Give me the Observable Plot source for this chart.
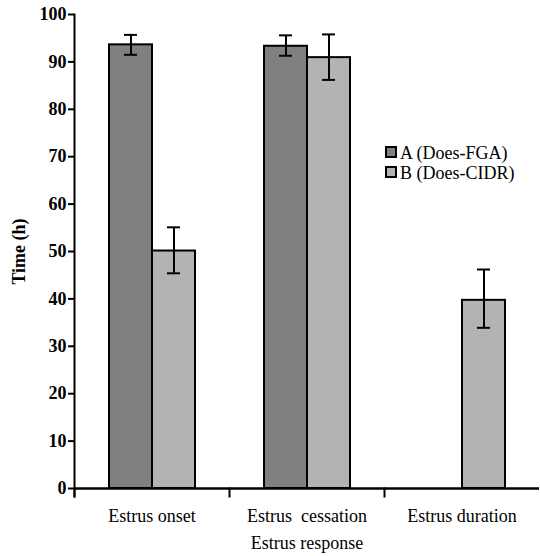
<!DOCTYPE html>
<html><head><meta charset="utf-8">
<script src="https://cdn.jsdelivr.net/npm/d3@7"></script>
<script src="https://cdn.jsdelivr.net/npm/@observablehq/plot@0.6"></script>
<style>
body{margin:0;background:#fff}
#wrap{position:relative;width:540px;height:556px;font-family:"Liberation Serif","Times New Roman","Noto Serif","DejaVu Serif","Tinos","Nimbus Roman","FreeSerif",serif}
#wrap svg text{white-space:pre}
.leg{position:absolute;left:385px;font-size:18px;line-height:20px;color:#000;white-space:nowrap}
.leg span.sw{display:inline-block;width:8px;height:8px;border:2px solid #000;margin-right:3px;vertical-align:1px}
</style>
</head><body><div id="wrap"></div>
<script>
const groups = ["Estrus onset", "Estrus  cessation", "Estrus duration"];
const seriesKeys = ["A", "B"];
const seriesNames = ["A (Does-FGA)", "B (Does-CIDR)"];
const valuesA = [93.6, 93.3, null];
const valuesB = [50.1, 90.9, 39.7];
const lowA = [91.5, 91.3, null];
const highA = [95.7, 95.6, null];
const lowB = [45.4, 86.2, 33.9];
const highB = [55.1, 95.8, 46.2];
const yTicks = [0, 10, 20, 30, 40, 50, 60, 70, 80, 90, 100];
const colors = ["#808080", "#b3b3b3"];

const rows = [];
groups.forEach((g, i) => {
  if (valuesA[i] != null) rows.push({group: g, series: "A", value: valuesA[i], lo: lowA[i], hi: highA[i]});
  if (valuesB[i] != null) rows.push({group: g, series: "B", value: valuesB[i], lo: lowB[i], hi: highB[i]});
});

const H = 556, mTop = 14, mBottom = 68;
const innerH = H - mTop - mBottom;
const FONT = "'Liberation Serif', 'Times New Roman', 'Noto Serif', 'DejaVu Serif', Tinos, 'Nimbus Roman', FreeSerif, serif";

const chart = Plot.plot({
  width: 540, height: H,
  marginLeft: 74, marginRight: 1, marginTop: mTop, marginBottom: mBottom,
  style: {fontFamily: FONT, fontSize: "18px", color: "#000", background: "#fff"},
  fx: {domain: groups, padding: 0},
  x: {domain: seriesKeys, paddingInner: 0, paddingOuter: 0.8, axis: null},
  y: {domain: [0, 100]},
  color: {domain: seriesKeys, range: colors},
  marks: [
    Plot.barY(rows, {fx: "group", x: "series", y: "value", fill: "series", stroke: "#000", strokeWidth: 2}),
    Plot.ruleX(rows, {fx: "group", x: "series", y1: "lo", y2: "hi", stroke: "#000", strokeWidth: 2}),
    Plot.tickY(rows, {fx: "group", x: "series", y: "lo", stroke: "#000", strokeWidth: 2, insetLeft: 15, insetRight: 15}),
    Plot.tickY(rows, {fx: "group", x: "series", y: "hi", stroke: "#000", strokeWidth: 2, insetLeft: 15, insetRight: 15}),
    Plot.ruleY([0], {stroke: "#000", strokeWidth: 2.5}),
    Plot.frame({anchor: "left", facetAnchor: "left", insetBottom: -8, stroke: "#000", strokeWidth: 2}),
    Plot.frame({anchor: "left", insetTop: innerH, insetBottom: -8, stroke: "#000", strokeWidth: 2}),
    Plot.axisY({ticks: yTicks, tickSize: 6, tickPadding: 2, fontWeight: "bold", strokeWidth: 2, fill: "#000",
      label: "Time (h)", labelAnchor: "center", labelOffset: 62, labelArrow: "none"}),
    Plot.axisFx({anchor: "bottom", tickSize: 0, tickPadding: 21, label: "Estrus response", fill: "#000",
      labelAnchor: "center", labelOffset: 60, labelArrow: "none"})
  ]
});
const wrap = document.getElementById("wrap");
wrap.appendChild(chart);
seriesNames.forEach((name, i) => {
  const d = document.createElement("div");
  d.className = "leg";
  d.style.top = (143 + i * 20) + "px";
  const sw = document.createElement("span");
  sw.className = "sw";
  sw.style.background = colors[i];
  d.appendChild(sw);
  d.appendChild(document.createTextNode(name));
  wrap.appendChild(d);
});
</script>
</body></html>
